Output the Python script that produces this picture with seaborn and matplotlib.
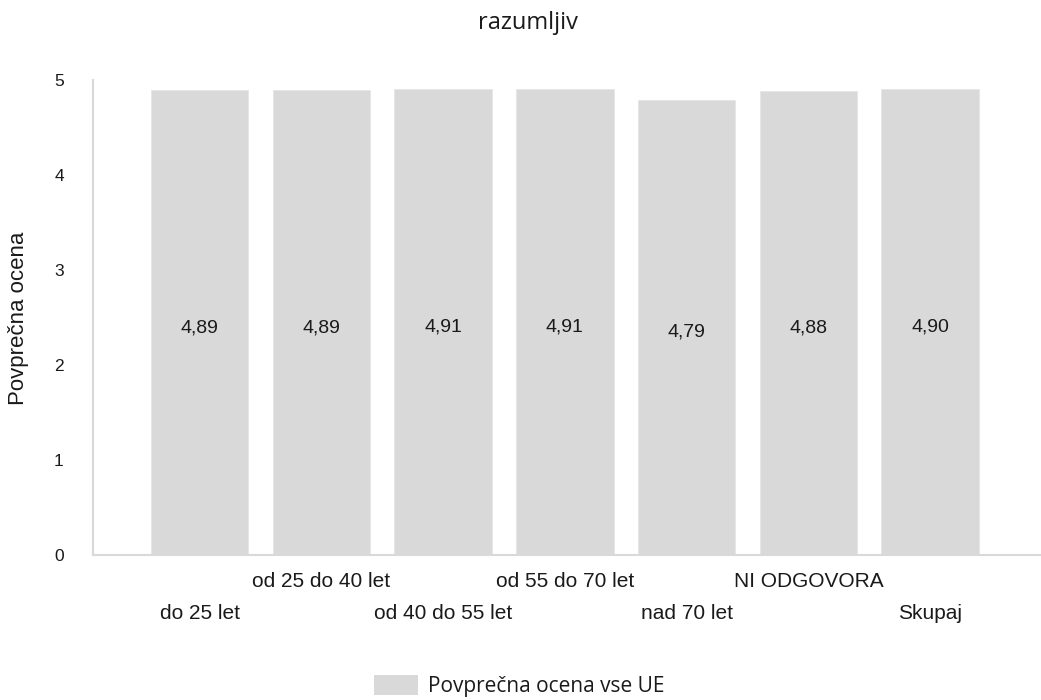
import matplotlib
matplotlib.use("Agg")
import matplotlib.pyplot as plt
import seaborn as sns
import pandas as pd
from matplotlib.patches import Patch

categories = ["do 25 let", "od 25 do 40 let", "od 40 do 55 let", "od 55 do 70 let",
              "nad 70 let", "NI ODGOVORA", "Skupaj"]
values = [4.89, 4.89, 4.91, 4.91, 4.79, 4.88, 4.90]
yticks = [0, 1, 2, 3, 4, 5]
title = "razumljiv"
ylabel = "Povprečna ocena"
legend_label = "Povprečna ocena vse UE"

BAR = "#d9d9d9"
TXT = "#1a1a1a"

sns.set_theme(style="white")
plt.rcParams["font.family"] = ["Liberation Sans", "DejaVu Sans"]

df = pd.DataFrame({"cat": categories, "val": values})

fig = plt.figure(figsize=(10.41, 7.0), dpi=100)
ax = fig.add_axes([93 / 1041, 1 - 555 / 700, 1 - 93 / 1041, (555 - 80) / 700])

sns.barplot(data=df, x="cat", y="val", color=BAR, width=0.8, ax=ax,
            edgecolor="#e6e6e6", linewidth=0.6, saturation=1)

ax.set_xlim(-0.875, 6.91)
ax.set_ylim(0, 5)
ax.set_yticks(yticks)
ax.set_yticklabels([str(t) for t in yticks], fontsize=12.5, color=TXT)
ax.tick_params(axis="y", length=0, pad=21)
ax.tick_params(axis="x", length=0, labelsize=15, labelcolor=TXT)

for i, tick in enumerate(ax.xaxis.get_major_ticks()):
    tick.set_pad(12.5 if i % 2 == 1 else 35.5)

ax.set_xlabel("")
ax.set_ylabel("")

for s in ["top", "right"]:
    ax.spines[s].set_visible(False)
for s in ["left", "bottom"]:
    ax.spines[s].set_color("#d9d9d9")
    ax.spines[s].set_linewidth(1.5)

for i, v in enumerate(values):
    ax.annotate(f"{v:.2f}".replace(".", ","), xy=(i, v / 2), xytext=(0, -3.5),
                textcoords="offset points", ha="center", va="center",
                fontsize=14, color=TXT)

fig.text(528 / 1041, 1 - 23 / 700, title, ha="center", va="center",
         fontsize=17, color=TXT, family=["Open Sans", "DejaVu Sans"])
fig.text(19 / 1041, 1 - 318 / 700, ylabel, ha="center", va="center",
         rotation=90, fontsize=16, color=TXT)

handles = [Patch(facecolor=BAR, edgecolor="none", label=legend_label)]
fig.legend(handles=handles, loc="center", bbox_to_anchor=(519 / 1041, 1 - 686 / 700),
           frameon=False, prop={"family": ["Open Sans", "DejaVu Sans"], "size": 15},
           handlelength=2.15, handleheight=1.1, handletextpad=0.45, labelcolor=TXT,
           borderpad=0, borderaxespad=0)

fig.savefig("out.png", dpi=100)
